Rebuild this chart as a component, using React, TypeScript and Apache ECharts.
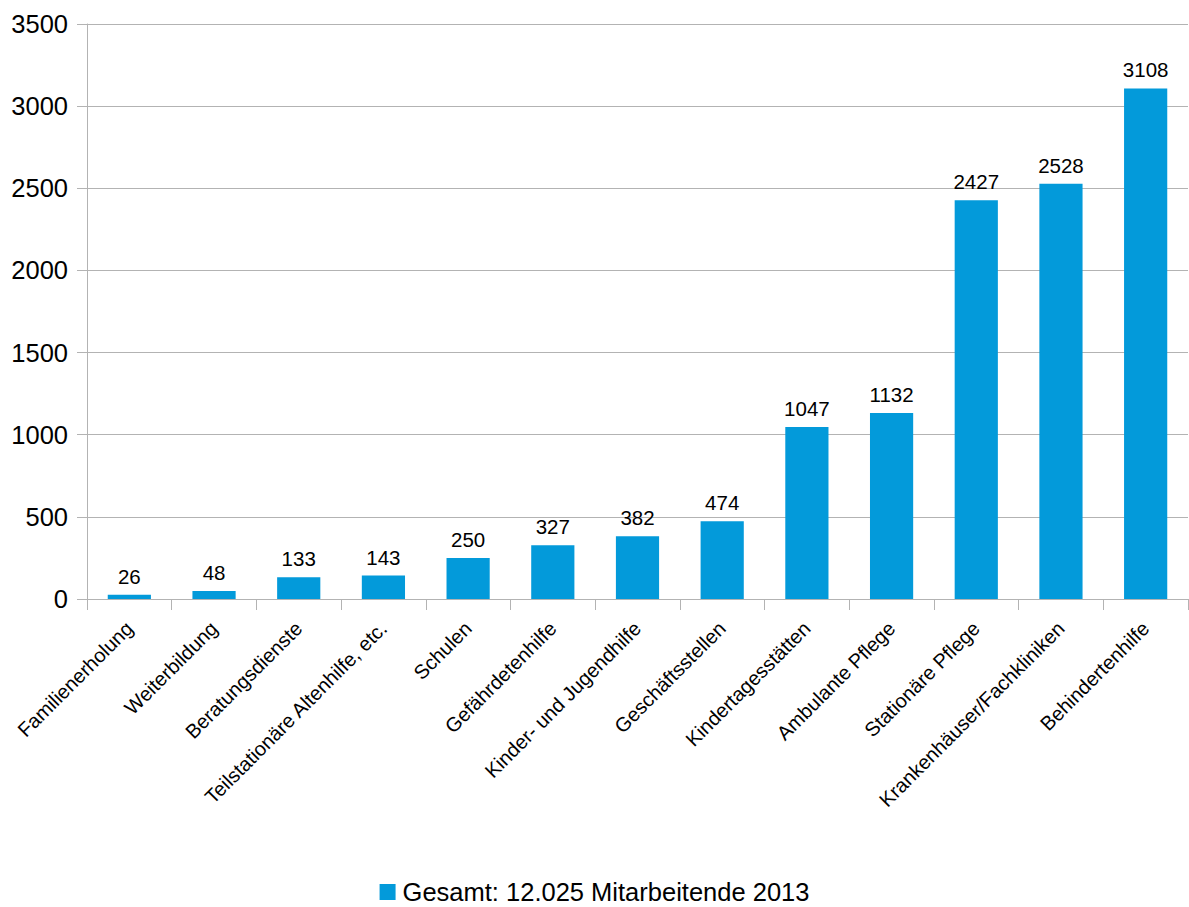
import React, { useEffect, useRef } from "react";
import * as echarts from "echarts";

const categories = [
  "Familienerholung",
  "Weiterbildung",
  "Beratungsdienste",
  "Teilstationäre Altenhilfe, etc.",
  "Schulen",
  "Gefährdetenhilfe",
  "Kinder- und Jugendhilfe",
  "Geschäftsstellen",
  "Kindertagesstätten",
  "Ambulante Pflege",
  "Stationäre Pflege",
  "Krankenhäuser/Fachkliniken",
  "Behindertenhilfe",
];
const values = [26, 48, 133, 143, 250, 327, 382, 474, 1047, 1132, 2427, 2528, 3108];
const yTicks = [0, 500, 1000, 1500, 2000, 2500, 3000, 3500];
const seriesName = "Gesamt: 12.025 Mitarbeitende 2013";

export default function App() {
  const ref = useRef<HTMLDivElement>(null);
  useEffect(() => {
    const chart = echarts.init(ref.current!, null, { renderer: "svg" });
    const font = "Liberation Sans, Arial, sans-serif";
    chart.setOption({
      animation: false,
      textStyle: { fontFamily: font },
      grid: { left: 87, right: 1, top: 24, bottom: 308, containLabel: false },
      legend: {
        top: 879,
        left: "center",
        itemWidth: 16,
        itemHeight: 16,
        icon: "rect",
        padding: 0,
        textStyle: {
          fontSize: 25.5,
          lineHeight: 22,
          color: "#000",
          fontFamily: font,
          padding: [0, 0, 0, 2],
        },
        data: [seriesName],
      },
      xAxis: {
        type: "category",
        data: categories,
        boundaryGap: true,
        axisLine: { lineStyle: { color: "#b3b3b3", width: 1 } },
        axisTick: { show: true, length: 11, interval: 0, lineStyle: { color: "#b3b3b3" } },
        axisLabel: {
          interval: 0,
          rotate: 45,
          fontSize: 20,
          color: "#000",
          margin: 26,
          fontFamily: font,
        },
      },
      yAxis: {
        type: "value",
        min: yTicks[0],
        max: yTicks[yTicks.length - 1],
        interval: 500,
        axisLine: { show: true, lineStyle: { color: "#b3b3b3", width: 1 } },
        axisTick: { show: true, length: 10, lineStyle: { color: "#b3b3b3" } },
        splitLine: { lineStyle: { color: "#b3b3b3", width: 1 } },
        axisLabel: {
          fontSize: 25.5,
          color: "#000",
          margin: 19,
          fontFamily: font,
          formatter: (v: number) => String(v),
        },
      },
      series: [
        {
          name: seriesName,
          type: "bar",
          data: values,
          barWidth: "51%",
          itemStyle: { color: "#039ada" },
          label: {
            show: true,
            position: "top",
            distance: 8,
            fontSize: 20.5,
            color: "#000",
            fontFamily: font,
          },
        },
      ],
    });
    return () => chart.dispose();
  }, []);
  return (
    <div
      ref={ref}
      style={{ position: "fixed", left: 0, top: 0, width: 1189, height: 907, background: "#fff" }}
    />
  );
}
